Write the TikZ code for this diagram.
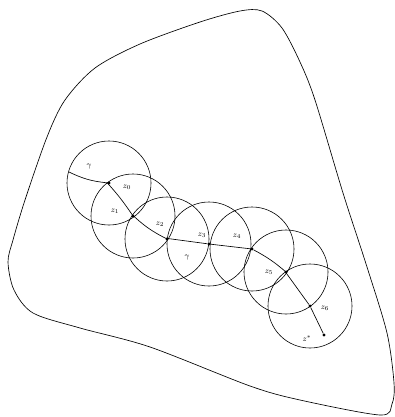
\documentclass[tikz,border=0pt]{standalone}
\usepackage{amsmath,amssymb}
\usetikzlibrary{calc}

\begin{document}
\begin{tikzpicture}[x=1pt, y=-1pt,
    ball/.style={draw, line width=0.6pt},
    curve/.style={line width=0.65pt},
    dot/.style={circle, fill, inner sep=0pt, minimum size=3.2pt},
    lab/.style={font=\footnotesize, inner sep=0.5pt}]
  \useasboundingbox (0,0) rectangle (395,417);
  % the domain
  \draw[curve] plot[smooth cycle, tension=0.5] coordinates {
    (200,22) (240,11) (262,11) (282,28) (300,62) (315,100) (343,193)
    (367,267) (387,333) (394,383) (392,404) (380,415) (300,400)
    (250,386) (150,347) (80,328) (33,313) (14,290) (8,262) (13,240)
    (25,200) (47,137) (65,100) (95,68) (140,44)};
  % points along the path
  \coordinate (start) at (69,172);
  \node[dot] (z0) at (109,183) {};
  \node[dot] (z1) at (133,216) {};
  \node[dot] (z2) at (167,239) {};
  \node[dot] (z3) at (209,244) {};
  \node[dot] (z4) at (252,249) {};
  \node[dot] (z5) at (286,272) {};
  \node[dot] (z6) at (310,306) {};
  \node[dot] (zs) at (324,335) {};
  % balls
  \foreach \p in {z0,z1,z2,z3,z4,z5,z6}
    \draw[ball] (\p) circle[radius=42];
  % the path gamma
  \draw[curve] (start) to[bend right=10] (z0) to[bend left=4] (z1)
    to[bend right=8] (z2) -- (z3) -- (z4) to[bend left=6] (z5)
    -- (z6) -- (zs);
  % labels
  \node[lab] (g1) at (89,167) {$\gamma$};
  \node[lab] (l0) at (127,187) {$z_0$};
  \node[lab] (l1) at (115,211) {$z_1$};
  \node[lab] (l2) at (160,224) {$z_2$};
  \node[lab] (l3) at (202,235) {$z_3$};
  \node[lab] (g2) at (187,258) {$\gamma$};
  \node[lab] (l4) at (237,236) {$z_4$};
  \node[lab] (l5) at (269,272) {$z_5$};
  \node[lab] (l6) at (325,308) {$z_6$};
  \node[lab] (ls) at (307,339) {$z^*$};
\end{tikzpicture}
\end{document}
